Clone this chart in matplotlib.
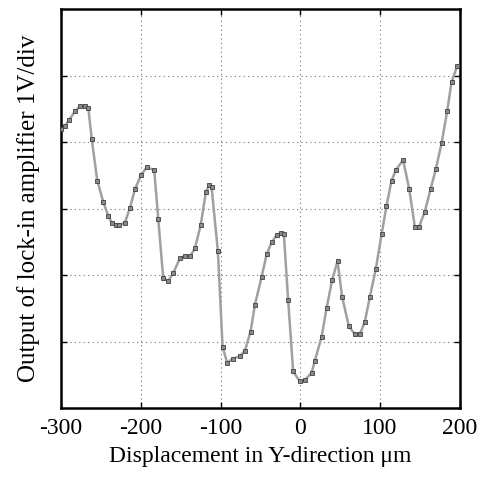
import matplotlib
matplotlib.use('Agg')
import matplotlib.pyplot as plt

# displacement (um) and lock-in output (divisions of 1 V)
disp = [-300.4, -295.0, -290.0, -282.5, -276.2, -269.9, -265.8, -261.5, -254.5, -247.0,
        -240.7, -236.5, -231.5, -226.9, -219.8, -213.5, -207.3, -199.7, -192.6, -183.1,
        -178.1, -171.8, -165.5, -159.3, -150.9, -144.6, -138.3, -132.1, -124.9, -118.3,
        -114.2, -111.2, -103.3, -97.4, -91.6, -84.8, -75.7, -69.4, -62.3, -56.9,
        -48.5, -42.2, -36.0, -29.7, -24.7, -20.6, -15.2, -8.9, -0.5, 5.8,
        14.2, 18.3, 26.7, 33.0, 40.0, 46.7, 52.5, 60.9, 68.4, 74.7,
        81.0, 87.2, 94.7, 101.9, 108.1, 114.4, 119.8, 128.9, 136.5, 143.6,
        149.0, 156.1, 163.3, 169.9, 177.1, 184.1, 189.6, 196.6]
output = [4.20, 4.24, 4.33, 4.46, 4.54, 4.54, 4.52, 4.05, 3.42, 3.10,
          2.89, 2.79, 2.76, 2.75, 2.79, 3.01, 3.29, 3.50, 3.62, 3.58,
          2.85, 1.95, 1.91, 2.03, 2.25, 2.29, 2.28, 2.40, 2.75, 3.25,
          3.35, 3.32, 2.36, 0.92, 0.68, 0.74, 0.78, 0.86, 1.15, 1.55,
          1.97, 2.31, 2.49, 2.60, 2.63, 2.62, 1.62, 0.55, 0.40, 0.42,
          0.53, 0.71, 1.07, 1.50, 1.93, 2.21, 1.67, 1.23, 1.11, 1.11,
          1.30, 1.67, 2.09, 2.61, 3.04, 3.42, 3.58, 3.73, 3.30, 2.73,
          2.73, 2.95, 3.29, 3.59, 3.98, 4.46, 4.90, 5.14]

xticks = [-300, -200, -100, 0, 100, 200]

plt.rcParams['font.family'] = ['Liberation Serif', 'DejaVu Serif']

fig = plt.figure(figsize=(4.84, 4.80), dpi=100)
ax = fig.add_axes([0.126, 0.15, 0.824, 0.831])

ax.plot(disp, output, color='#a0a0a0', linewidth=1.8, zorder=2)
ax.plot(disp, output, linestyle='none', marker='s', markersize=3.2,
        markerfacecolor='#8a8a8a', markeredgecolor='#404040', markeredgewidth=0.6, zorder=3)

ax.set_xlim(-300, 200)
ax.set_ylim(0, 6)
ax.set_xticks(xticks)
ax.set_xticklabels([str(t) for t in xticks], fontsize=17)
ax.set_yticks([1, 2, 3, 4, 5])
ax.set_yticklabels([])
ax.grid(True, color='#707070', linestyle=(0, (1, 3)), linewidth=0.8)
ax.tick_params(direction='in', length=4, width=1, top=True, right=True, pad=7)

for s in ax.spines.values():
    s.set_linewidth(1.8)

ax.set_xlabel('Displacement in Y-direction \u03bcm', fontsize=17, labelpad=5)
ax.set_ylabel('Output of lock-in amplifier 1V/div', fontsize=18, labelpad=8)

fig.savefig('out.png', dpi=100)
